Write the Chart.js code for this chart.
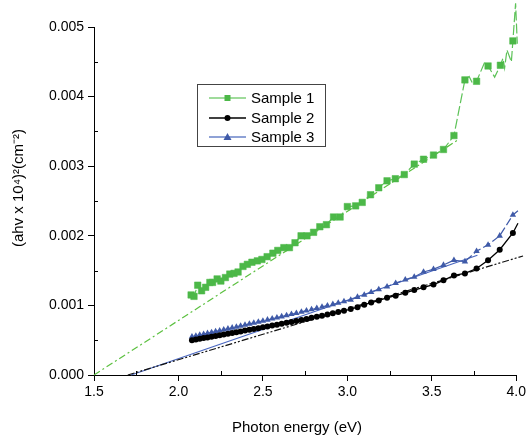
<!DOCTYPE html>
<html>
<head>
<meta charset="utf-8">
<script src="https://cdn.jsdelivr.net/npm/chart.js@4.4.1/dist/chart.umd.min.js"></script>
<style>
  html, body { margin: 0; padding: 0; background: #fff; }
  #wrap { width: 529px; height: 444px; }
</style>
</head>
<body>
<div id="wrap"><canvas id="myChart"></canvas></div>
<script>
// Sample 1 (marked points)
const s1Energy = [2.075, 2.092, 2.114, 2.137, 2.161, 2.186, 2.202, 2.229, 2.251, 2.278, 2.304, 2.329, 2.353,
  2.382, 2.408, 2.435, 2.467, 2.494, 2.525, 2.559, 2.588, 2.624, 2.657, 2.69, 2.726, 2.761, 2.8, 2.837,
  2.876, 2.918, 2.957, 3.0, 3.049, 3.088, 3.137, 3.186, 3.235, 3.284, 3.337, 3.396, 3.451, 3.51, 3.569,
  3.631, 3.696, 3.765, 3.833, 3.906, 3.98];
const s1Value = [0.00115, 0.00113, 0.00129, 0.00121, 0.00126, 0.00133, 0.00133, 0.00138, 0.00135, 0.0014,
  0.00145, 0.00146, 0.00148, 0.00156, 0.00159, 0.00162, 0.00164, 0.00166, 0.0017, 0.00175, 0.00179, 0.00183,
  0.00183, 0.0019, 0.002, 0.002, 0.00205, 0.00213, 0.00216, 0.00227, 0.00227, 0.00242, 0.00243, 0.00248,
  0.00259, 0.00269, 0.00279, 0.00282, 0.00288, 0.00303, 0.0031, 0.00316, 0.00324, 0.00344, 0.00424, 0.00422,
  0.00444, 0.00445, 0.0048];
// Sample 1 points between markers (noisy tail)
const s1NoiseEnergy = [3.721, 3.741, 3.814, 3.872, 3.921, 3.931, 3.945, 3.971, 3.996, 4.006, 4.02];
const s1NoiseValue = [0.00429, 0.00419, 0.0045, 0.00428, 0.00455, 0.00441, 0.00467, 0.0045, 0.00534, 0.00476, 0.005];

// Samples 2 and 3 share energies
const energy = [2.08, 2.103, 2.126, 2.149, 2.172, 2.196, 2.220, 2.244, 2.268, 2.293, 2.318, 2.343, 2.368,
  2.394, 2.420, 2.446, 2.473, 2.500, 2.527, 2.555, 2.583, 2.611, 2.640, 2.669, 2.698, 2.728, 2.758, 2.788,
  2.819, 2.850, 2.882, 2.914, 2.946, 2.980, 3.020, 3.060, 3.100, 3.141, 3.186, 3.235, 3.286, 3.343, 3.396,
  3.451, 3.51, 3.569, 3.631, 3.696, 3.765, 3.833, 3.902, 3.98, 4.01];
const s2Value = [0.000500, 0.000510, 0.000520, 0.000530, 0.000540, 0.000551, 0.000561, 0.000572, 0.000582,
  0.000593, 0.000604, 0.000615, 0.000626, 0.000638, 0.000649, 0.000661, 0.000673, 0.000685, 0.000697, 0.000710,
  0.000723, 0.000736, 0.000749, 0.000763, 0.000777, 0.000791, 0.000806, 0.000821, 0.000837, 0.000853, 0.000870,
  0.000887, 0.000904, 0.000923, 0.000948, 0.000975, 0.00101, 0.00104, 0.00107, 0.00111, 0.00114, 0.00118,
  0.00122, 0.00126, 0.00130, 0.00136, 0.00143, 0.00146, 0.00153, 0.00165, 0.00180, 0.00204, 0.00218];
const s3Value = [0.000550, 0.000562, 0.000575, 0.000587, 0.000599, 0.000612, 0.000625, 0.000638, 0.000651,
  0.000664, 0.000678, 0.000692, 0.000705, 0.000719, 0.000734, 0.000748, 0.000763, 0.000778, 0.000793, 0.000808,
  0.000824, 0.000840, 0.000856, 0.000873, 0.000889, 0.000906, 0.000924, 0.000941, 0.000959, 0.000978, 0.000997,
  0.001016, 0.001035, 0.001056, 0.00108, 0.00112, 0.00115, 0.00119, 0.00123, 0.00127, 0.00132, 0.00137,
  0.00141, 0.00148, 0.00152, 0.00158, 0.00165, 0.00163, 0.00178, 0.00187, 0.00200, 0.00230, 0.00236];

// linear fits (Tauc extrapolation)
const fit1Energy = [1.5, 3.65];
const fit1Value = [0, 0.00337];
const fit2Energy = [1.7, 4.04];
const fit2Value = [0, 0.00171];
const fit3Energy = [1.72, 3.77];
const fit3Value = [0, 0.00172];

const xTicks = [1.5, 2.0, 2.5, 3.0, 3.5, 4.0];
const xMinor = [1.75, 2.25, 2.75, 3.25, 3.75];
const yMinor = [0.0005, 0.0015, 0.0025, 0.0035, 0.0045];

const green = '#4cb848';
const black = '#000000';
const blue = '#3f5aa8';

const pts = (xs, ys) => xs.map((x, i) => ({ x: x, y: ys[i] }));

const s1Points = s1Energy.map((x, i) => ({ x: x, y: s1Value[i], m: true }))
  .concat(s1NoiseEnergy.map((x, i) => ({ x: x, y: s1NoiseValue[i], m: false })))
  .sort((a, b) => a.x - b.x);

const lastIdx = energy.length - 1;

const extras = {
  id: 'extras',
  afterDraw(chart) {
    const ctx = chart.ctx;
    const xs = chart.scales.x, ys = chart.scales.y;
    const area = chart.chartArea;
    ctx.save();
    // minor ticks, inside
    ctx.strokeStyle = '#000';
    ctx.lineWidth = 1;
    ctx.beginPath();
    xMinor.forEach(v => {
      const px = Math.round(xs.getPixelForValue(v)) + 0.5;
      ctx.moveTo(px, area.bottom);
      ctx.lineTo(px, area.bottom - 4);
    });
    yMinor.forEach(v => {
      const py = Math.round(ys.getPixelForValue(v)) + 0.5;
      ctx.moveTo(area.left, py);
      ctx.lineTo(area.left + 4, py);
    });
    ctx.stroke();

    // axis titles
    ctx.fillStyle = '#000';
    ctx.font = '15px "Liberation Sans", Arial, sans-serif';
    ctx.textAlign = 'center';
    ctx.textBaseline = 'middle';
    ctx.fillText('Photon energy (eV)', 297, 428);
    ctx.save();
    ctx.translate(19, 188);
    ctx.rotate(-Math.PI / 2);
    ctx.fillText('(ahv x 10\u2074)\u00b2(cm\u207b\u00b2)', 0, 0);
    ctx.restore();

    // legend
    ctx.fillStyle = '#fff';
    ctx.fillRect(197, 84, 128, 62);
    ctx.strokeStyle = '#444';
    ctx.strokeRect(197.5, 84.5, 128, 62);
    const items = [
      { label: 'Sample 1', color: green, line: '#7fcf7a', shape: 'rect', y: 98 },
      { label: 'Sample 2', color: black, line: black, shape: 'circle', y: 118 },
      { label: 'Sample 3', color: blue, line: '#6a83c8', shape: 'triangle', y: 137 }
    ];
    items.forEach(it => {
      ctx.strokeStyle = it.line;
      ctx.lineWidth = 1.5;
      ctx.beginPath();
      ctx.moveTo(209, it.y);
      ctx.lineTo(246, it.y);
      ctx.stroke();
      ctx.fillStyle = it.color;
      ctx.beginPath();
      if (it.shape === 'rect') {
        ctx.rect(224.5, it.y - 3, 6, 6);
      } else if (it.shape === 'circle') {
        ctx.arc(227.5, it.y, 3, 0, Math.PI * 2);
      } else {
        ctx.moveTo(227.5, it.y - 4);
        ctx.lineTo(231.5, it.y + 3);
        ctx.lineTo(223.5, it.y + 3);
        ctx.closePath();
      }
      ctx.fill();
      ctx.fillStyle = '#000';
      ctx.textAlign = 'left';
      ctx.font = '15px "Liberation Sans", Arial, sans-serif';
      ctx.fillText(it.label, 251, it.y + 1);
    });
    ctx.restore();
  }
};

new Chart(document.getElementById('myChart'), {
  type: 'line',
  data: {
    datasets: [
      {
        label: 'Sample 1',
        data: s1Points,
        borderColor: '#5cc257',
        backgroundColor: green,
        borderWidth: 1.2,
        borderDash: [10, 3],
        pointStyle: 'rect',
        pointRadius: c => (c.raw && c.raw.m ? 4.6 : 0),
        pointBorderWidth: 0.5,
        pointBorderColor: green,
        clip: false
      },
      {
        label: 'Sample 2',
        data: pts(energy, s2Value),
        borderColor: black,
        backgroundColor: black,
        borderWidth: 1.3,
        pointStyle: 'circle',
        pointRadius: c => (c.dataIndex === lastIdx ? 0 : 3),
        pointBorderWidth: 0,
        clip: false
      },
      {
        label: 'Sample 3',
        data: pts(energy, s3Value),
        borderColor: blue,
        backgroundColor: blue,
        borderWidth: 1.2,
        borderDash: [8, 3],
        pointStyle: 'triangle',
        pointRadius: c => (c.dataIndex === lastIdx ? 0 : 3.7),
        pointBorderWidth: 0,
        clip: false
      },
      {
        label: 'fit 1',
        data: pts(fit1Energy, fit1Value),
        borderColor: '#5cc040',
        borderWidth: 1.2,
        borderDash: [7, 3, 2, 3],
        pointRadius: 0,
        clip: false
      },
      {
        label: 'fit 2',
        data: pts(fit2Energy, fit2Value),
        borderColor: '#111',
        borderWidth: 1.2,
        borderDash: [7, 2, 2, 2, 2, 2],
        pointRadius: 0,
        clip: false
      },
      {
        label: 'fit 3',
        data: pts(fit3Energy, fit3Value),
        borderColor: '#4a67c0',
        borderWidth: 1.2,
        pointRadius: 0,
        clip: false
      }
    ]
  },
  options: {
    responsive: true,
    maintainAspectRatio: false,
    animation: false,
    layout: { padding: { top: 27, right: 8, left: 0, bottom: 0 } },
    plugins: {
      legend: { display: false },
      tooltip: { enabled: false }
    },
    scales: {
      x: {
        type: 'linear',
        min: 1.5,
        max: 4.0,
        afterFit(s) { s.height = 69; },
        afterBuildTicks(s) { s.ticks = xTicks.map(v => ({ value: v })); },
        ticks: {
          color: '#000',
          padding: 3,
          maxRotation: 0,
          font: { size: 14, family: '"Liberation Sans", Arial, sans-serif' },
          callback: v => Number(v).toFixed(1)
        },
        grid: { drawOnChartArea: false, drawTicks: true, tickLength: 6, color: '#000' },
        border: { display: true, color: '#000', width: 1 }
      },
      y: {
        min: 0,
        max: 0.005,
        afterFit(s) { s.width = 94; },
        ticks: {
          stepSize: 0.001,
          color: '#000',
          padding: 4,
          font: { size: 14, family: '"Liberation Sans", Arial, sans-serif' },
          callback: v => Number(v).toFixed(3)
        },
        grid: { drawOnChartArea: false, drawTicks: true, tickLength: 6, color: '#000' },
        border: { display: true, color: '#000', width: 1 }
      }
    }
  },
  plugins: [extras]
});
</script>
</body>
</html>
